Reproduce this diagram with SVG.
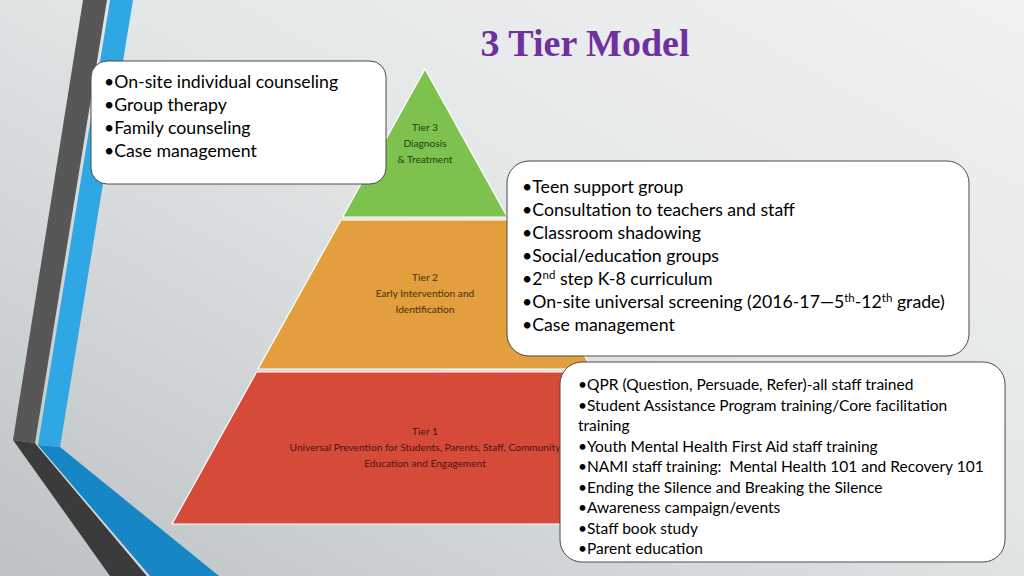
<svg xmlns="http://www.w3.org/2000/svg" width="1024" height="576" viewBox="0 0 1024 576">
  <defs>
    <linearGradient id="bg" x1="1" y1="0" x2="0" y2="1">
      <stop offset="0" stop-color="#f1f2f2"/>
      <stop offset="0.45" stop-color="#e3e6e7"/>
      <stop offset="1" stop-color="#bcc2c5"/>
    </linearGradient>
    <style>
      .box { fill: #ffffff; stroke: #4a4a4a; stroke-width: 1; }
      .tier { stroke: #ffffff; stroke-width: 1.2; }
      .lbl { font-family: Lato, "Liberation Sans", sans-serif; font-size: 10.2px; text-anchor: middle; }
      .t1 { font-family: Lato, "Liberation Sans", sans-serif; font-size: 17.7px; fill: #000; }
      .t3 { font-family: Lato, "Liberation Sans", sans-serif; font-size: 15.5px; fill: #000; }
      .title { font-family: "Liberation Serif", "Times New Roman", serif; font-weight: bold; font-size: 38px; fill: #7030a0; text-anchor: middle; }
    </style>
  </defs>

  <rect x="0" y="0" width="1024" height="576" fill="url(#bg)"/>

  <!-- decorative bands -->
  <g id="bands">
    <polygon points="83,0 107,0 35,443 13,440" fill="#575757"/>
    <polygon points="110,0 133,0 60,447 38,445" fill="#2ea7e4"/>
    <polygon points="13,440 35,443 147,576 110,576" fill="#3b3b3b"/>
    <polygon points="35,443 38,445 150,576 147,576" fill="#d5d8d9"/>
    <polygon points="38,445 60,447 219,576 150,576" fill="#1786c6"/>
  </g>

  <text class="title" x="585" y="56">3 Tier Model</text>

  <!-- pyramid -->
  <g id="tier3">
    <polygon class="tier" points="425,69 507.3,217 342.7,217" fill="#7dc24e"/>
    <text class="lbl" fill="#1f3d12" x="425" y="131">Tier 3</text>
    <text class="lbl" fill="#1f3d12" x="425" y="147">Diagnosis</text>
    <text class="lbl" fill="#1f3d12" x="425" y="163">&amp; Treatment</text>
  </g>
  <g id="tier2">
    <polygon class="tier" points="341,220 509,220 592,369 258,369" fill="#e39e3e"/>
    <text class="lbl" fill="#4a2e0c" x="425" y="281">Tier 2</text>
    <text class="lbl" fill="#4a2e0c" x="425" y="297">Early Intervention and</text>
    <text class="lbl" fill="#4a2e0c" x="425" y="313">Identification</text>
  </g>
  <g id="tier1">
    <polygon class="tier" points="256.5,372 593.5,372 678,524 172,524" fill="#d64a3a"/>
    <text class="lbl" fill="#4a1610" x="425" y="435">Tier 1</text>
    <text class="lbl" fill="#4a1610" x="425" y="451">Universal Prevention for Students, Parents, Staff, Community</text>
    <text class="lbl" fill="#4a1610" x="425" y="467">Education and Engagement</text>
  </g>

  <!-- callout boxes -->
  <g id="box-tier3">
    <rect class="box" x="91" y="61" width="295" height="123" rx="16" ry="16"/>
    <text class="t1" x="104" y="88">•On-site individual counseling</text>
    <text class="t1" x="104" y="111">•Group therapy</text>
    <text class="t1" x="104" y="134">•Family counseling</text>
    <text class="t1" x="104" y="157">•Case management</text>
  </g>

  <g id="box-tier2">
    <rect class="box" x="507" y="161" width="462" height="195" rx="22" ry="22"/>
    <text class="t1" x="522" y="193">•Teen support group</text>
    <text class="t1" x="522" y="216">•Consultation to teachers and staff</text>
    <text class="t1" x="522" y="239">•Classroom shadowing</text>
    <text class="t1" x="522" y="262">•Social/education groups</text>
    <text class="t1" x="522" y="285">•2<tspan font-size="11.5" dy="-6">nd</tspan><tspan dy="6"> step K-8 curriculum</tspan></text>
    <text class="t1" x="522" y="308">•On-site universal screening (2016-17—5<tspan font-size="11.5" dy="-6">th</tspan><tspan dy="6">-12</tspan><tspan font-size="11.5" dy="-6">th</tspan><tspan dy="6"> grade)</tspan></text>
    <text class="t1" x="522" y="331">•Case management</text>
  </g>

  <g id="box-tier1">
    <rect class="box" x="560" y="362" width="445" height="200" rx="22" ry="22"/>
    <text class="t3" x="578" y="390">•QPR (Question, Persuade, Refer)-all staff trained</text>
    <text class="t3" x="578" y="411">•Student Assistance Program training/Core facilitation</text>
    <text class="t3" x="578" y="431">training</text>
    <text class="t3" x="578" y="452">•Youth Mental Health First Aid staff training</text>
    <text class="t3" x="578" y="472" xml:space="preserve">•NAMI staff training:  Mental Health 101 and Recovery 101</text>
    <text class="t3" x="578" y="493">•Ending the Silence and Breaking the Silence</text>
    <text class="t3" x="578" y="513">•Awareness campaign/events</text>
    <text class="t3" x="578" y="534">•Staff book study</text>
    <text class="t3" x="578" y="554">•Parent education</text>
  </g>
</svg>
